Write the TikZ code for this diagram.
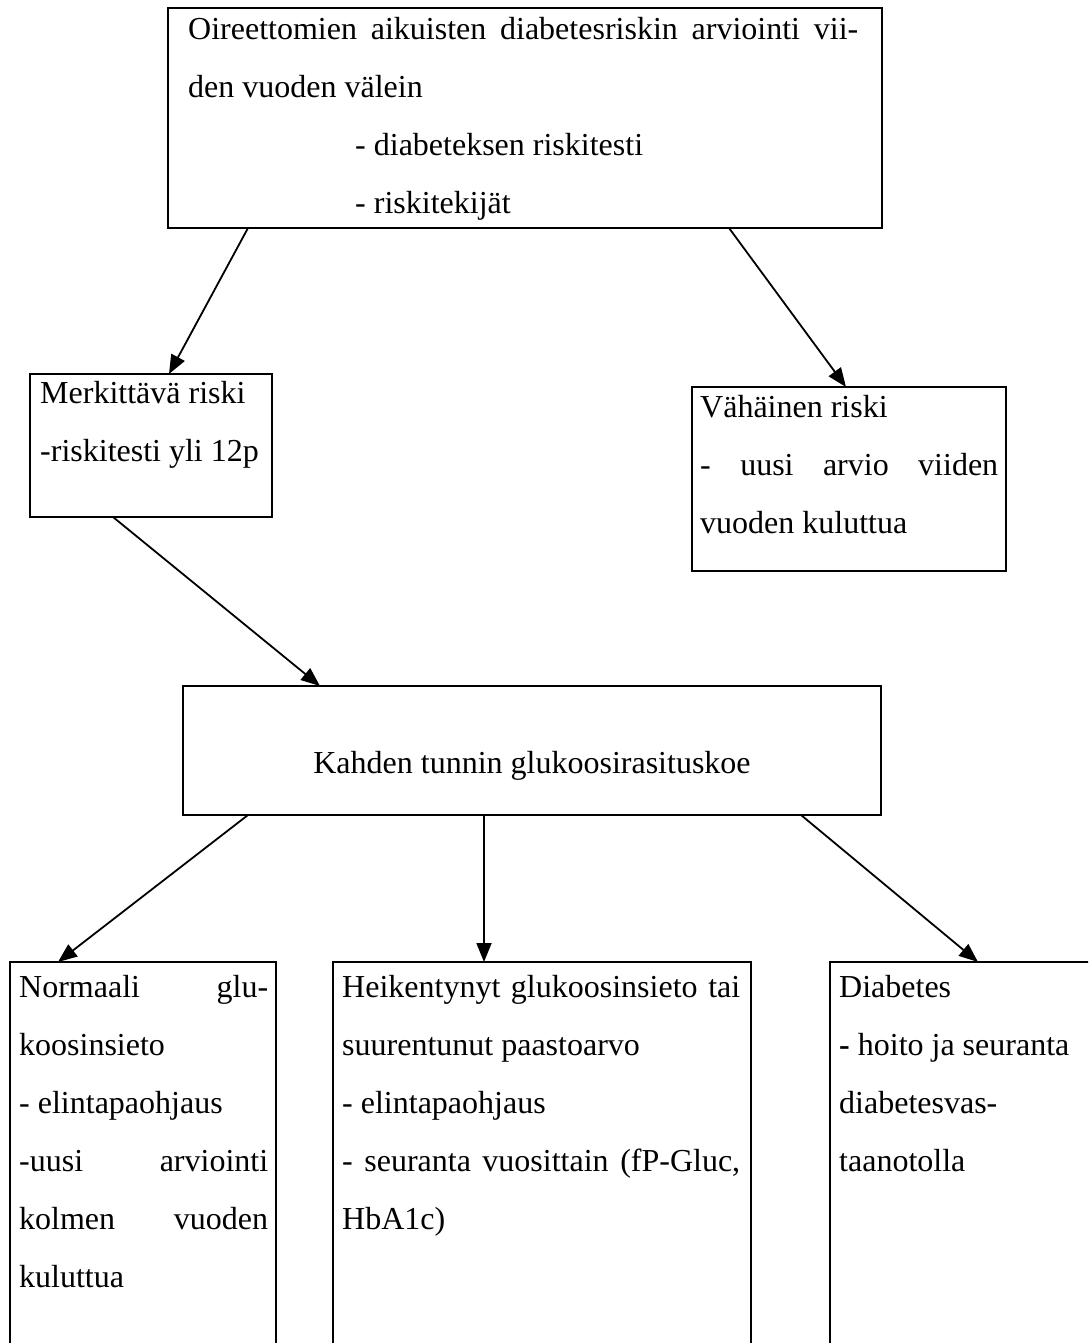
\documentclass[tikz,border=0pt]{standalone}
\usepackage{fontspec}
\setmainfont{Liberation Serif}
\usetikzlibrary{arrows.meta}
\begin{document}
\begin{tikzpicture}[x=1pt,y=-1pt,
  box/.style={draw, line width=2pt, anchor=north west, inner sep=0pt, outer sep=0pt},
  arr/.style={line width=1.8pt, -{Triangle[length=19pt,width=15pt]}},
  txt/.style={anchor=base west, inner sep=0pt, font=\fontsize{32}{38}\selectfont},
  ctxt/.style={anchor=base, inner sep=0pt, font=\fontsize{32}{38}\selectfont}]
\useasboundingbox (0,0) rectangle (1088,1343);
\clip (0,0) rectangle (1088,1343);

% boxes
\node[box, minimum width=714pt, minimum height=220pt] (top) at (168,8) {};
\node[box, minimum width=242pt, minimum height=143pt] (merk) at (30,374) {};
\node[box, minimum width=314pt, minimum height=184pt] (vah) at (692,387) {};
\node[box, minimum width=698pt, minimum height=129pt] (koe) at (183,686) {};
\node[box, minimum width=266pt, minimum height=420pt] (norm) at (10,962) {};
\node[box, minimum width=418pt, minimum height=420pt] (heik) at (333,962) {};
\node[box, minimum width=418pt, minimum height=420pt] (diab) at (830,962) {};

% texts of the first box
\node[txt] (top1) at (188,40) {\makebox[670pt][s]{Oireettomien aikuisten diabetesriskin arviointi vii-}};
\node[txt] (top2) at (188,98) {den vuoden välein};
\node[txt] (top3) at (355,156) {- diabeteksen riskitesti};
\node[txt] (top4) at (355,214) {- riskitekijät};

% risk level boxes
\node[txt] (merk1) at (40,403) {Merkittävä riski};
\node[txt] (merk2) at (40,461) {-riskitesti yli 12p};
\node[txt] (vah1) at (700,417) {Vähäinen riski};
\node[txt] (vah2) at (700,475) {\makebox[298pt][s]{- uusi arvio viiden}};
\node[txt] (vah3) at (700,533) {vuoden kuluttua};

% glucose test
\node[ctxt] (koe1) at (532,773) {Kahden tunnin glukoosirasituskoe};

% outcome boxes
\node[txt] (norm1) at (19,997) {\makebox[249pt][s]{Normaali glu-}};
\node[txt] (norm2) at (19,1055) {koosinsieto};
\node[txt] (norm3) at (19,1113) {- elintapaohjaus};
\node[txt] (norm4) at (19,1171) {\makebox[249pt][s]{-uusi arviointi}};
\node[txt] (norm5) at (19,1229) {\makebox[249pt][s]{kolmen vuoden}};
\node[txt] (norm6) at (19,1287) {kuluttua};

\node[txt] (heik1) at (342,997) {\makebox[398pt][s]{Heikentynyt glukoosinsieto tai}};
\node[txt] (heik2) at (342,1055) {suurentunut paastoarvo};
\node[txt] (heik3) at (342,1113) {- elintapaohjaus};
\node[txt] (heik4) at (342,1171) {\makebox[398pt][s]{- seuranta vuosittain (fP-Gluc,}};
\node[txt] (heik5) at (342,1229) {HbA1c)};

\node[txt] (diab1) at (839,997) {Diabetes};
\node[txt] (diab2) at (839,1055) {\textbf{-} hoito ja seuranta};
\node[txt] (diab3) at (839,1113) {diabetesvas-};
\node[txt] (diab4) at (839,1171) {taanotolla};

% connectors
\draw[arr] ([xshift=80pt]top.south west) -- ([xshift=139pt]merk.north west);
\draw[arr] ([xshift=561pt]top.south west) -- ([xshift=154pt]vah.north west);
\draw[arr] ([xshift=83pt]merk.south west) -- ([xshift=137pt]koe.north west);
\draw[arr] ([xshift=65pt]koe.south west) -- ([xshift=48pt]norm.north west);
\draw[arr] ([xshift=301pt]koe.south west) -- ([xshift=151pt]heik.north west);
\draw[arr] ([xshift=618pt]koe.south west) -- ([xshift=148pt]diab.north west);
\end{tikzpicture}
\end{document}
